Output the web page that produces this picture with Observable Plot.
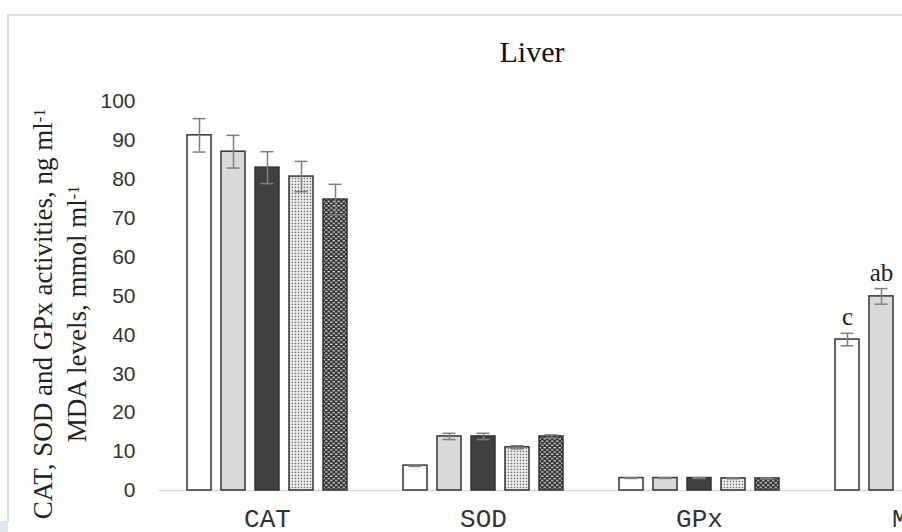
<!DOCTYPE html>
<html><head><meta charset="utf-8">
<script src="https://cdn.jsdelivr.net/npm/d3@7"></script>
<script src="https://cdn.jsdelivr.net/npm/@observablehq/plot@0.6"></script>
<style>
html,body{margin:0;padding:0;background:#fff;}
#wrap{position:relative;width:902px;height:532px;overflow:hidden;background:#fff;}
#frame{position:absolute;left:7px;top:14px;width:1200px;height:506px;border-top:2px solid #dcdcdc;border-left:2px solid #dcdcdc;}
#corner{position:absolute;left:0;top:521px;width:8px;height:11px;background:#dde7f1;}
#wrap svg{position:absolute;left:0;top:0;max-width:none;}
[aria-label^="y-axis"] text{font-family:"Liberation Sans";font-size:21px;fill:#333;}
[aria-label^="fx-axis"] text{font-family:"Liberation Mono";font-size:26px;fill:#333;}
</style>
</head><body>
<div id="wrap"><div id="frame"></div><div id="corner"></div></div>
<script>
// ---- data ----
const categories = ["CAT", "SOD", "GPx", "MDA"];
const groups = ["Group 1", "Group 2", "Group 3", "Group 4", "Group 5"];
const yTicks = [0, 10, 20, 30, 40, 50, 60, 70, 80, 90, 100];
const catMeans = [91.3, 87.1, 83.0, 80.7, 74.8];
const catErr   = [4.3, 4.2, 4.1, 3.9, 3.9];
const sodMeans = [6.4, 13.9, 13.9, 11.1, 13.9];
const sodErr   = [0.2, 0.8, 0.8, 0.4, 0.4];
const gpxMeans = [3.2, 3.2, 3.2, 3.1, 3.1];
const gpxErr   = [0.1, 0.1, 0.1, 0.1, 0.1];
const mdaMeans = [38.8, 49.9];
const mdaErr   = [1.6, 2.0];
const mdaLetters = ["c", "ab"];
const titleText = "Liver";
const yLabel1 = "CAT, SOD and GPx activities, ng ml";
const yLabel2 = "MDA levels, mmol ml";

// ---- styles ----
const groupFills = ["#ffffff", "#d9d9d9", "#404040", "url(#dots)", "url(#checks)"];

const rows = [];
[["CAT", catMeans, catErr, []], ["SOD", sodMeans, sodErr, []], ["GPx", gpxMeans, gpxErr, []], ["MDA", mdaMeans, mdaErr, mdaLetters]]
  .forEach(([cat, means, errs, letters]) => {
    means.forEach((m, i) => rows.push({cat, group: groups[i], mean: m, err: errs[i], letter: letters[i] || ""}));
  });

const chart = Plot.plot({
  width: 1040, height: 532,
  marginLeft: 159, marginRight: 17, marginTop: 101, marginBottom: 42,
  style: {background: "transparent", overflow: "visible", maxWidth: "none", fontFamily: "Liberation Sans"},
  fx: {domain: categories, paddingInner: 0, paddingOuter: 0, label: null, tickSize: 0, tickPadding: 18, axis: "bottom"},
  x: {domain: groups, paddingInner: 0.28, paddingOuter: 0.748, axis: null},
  y: {domain: [0, 100], ticks: yTicks, tickSize: 0, tickPadding: 24, label: null},
  color: {domain: groups, range: groupFills},
  marks: [
    Plot.ruleY([0], {stroke: "#d9d9d9", strokeWidth: 1.5}),
    Plot.barY(rows, {fx: "cat", x: "group", y: "mean", fill: "group", stroke: "#333", strokeWidth: 1.5}),
    Plot.ruleX(rows, {fx: "cat", x: "group", y1: d => d.mean - d.err, y2: d => d.mean + d.err, stroke: "#7f7f7f", strokeWidth: 1.5}),
    Plot.tickY(rows, {fx: "cat", x: "group", y: d => d.mean - d.err, insetLeft: 5.5, insetRight: 5.5, stroke: "#7f7f7f", strokeWidth: 1.5}),
    Plot.tickY(rows, {fx: "cat", x: "group", y: d => d.mean + d.err, insetLeft: 5.5, insetRight: 5.5, stroke: "#7f7f7f", strokeWidth: 1.5}),
    Plot.text(rows.filter(d => d.letter), {fx: "cat", x: "group", y: d => d.mean + d.err, text: "letter", dy: -8, lineAnchor: "bottom", fontSize: 25, fontFamily: "Liberation Serif", fill: "#222"})
  ]
});

const svg = d3.select(chart);
const defs = svg.insert("defs", ":first-child");
const p1 = defs.append("pattern").attr("id", "dots").attr("patternUnits", "userSpaceOnUse").attr("width", 3).attr("height", 3);
p1.append("rect").attr("width", 3).attr("height", 3).attr("fill", "#f2f2f2");
p1.append("rect").attr("x", 0.7).attr("y", 0.7).attr("width", 1.5).attr("height", 1.5).attr("fill", "#707070");
const p2 = defs.append("pattern").attr("id", "checks").attr("patternUnits", "userSpaceOnUse").attr("width", 5).attr("height", 4.4);
p2.append("rect").attr("width", 5).attr("height", 4.4).attr("fill", "#333");
p2.append("rect").attr("x", 0).attr("y", 0.5).attr("width", 2.5).attr("height", 1.2).attr("fill", "#e0e0e0");
p2.append("rect").attr("x", 2.5).attr("y", 2.7).attr("width", 2.5).attr("height", 1.2).attr("fill", "#e0e0e0");

svg.append("text").attr("x", 532).attr("y", 62).attr("text-anchor", "middle")
  .attr("font-family", "Liberation Serif").attr("font-size", 30).attr("fill", "#111").text(titleText);

function addLabel(cx, txt) {
  const t = svg.append("text").attr("transform", `translate(${cx},314) rotate(-90)`)
    .attr("text-anchor", "middle").attr("dy", "0.33em")
    .attr("font-family", "Liberation Serif").attr("font-size", 27).attr("fill", "#222");
  t.append("tspan").text(txt);
  t.append("tspan").attr("dy", "-0.45em").attr("font-size", "0.6em").text("-1");
}
addLabel(43, yLabel1);
addLabel(77, yLabel2);

document.getElementById("wrap").appendChild(chart);
</script>
</body></html>
